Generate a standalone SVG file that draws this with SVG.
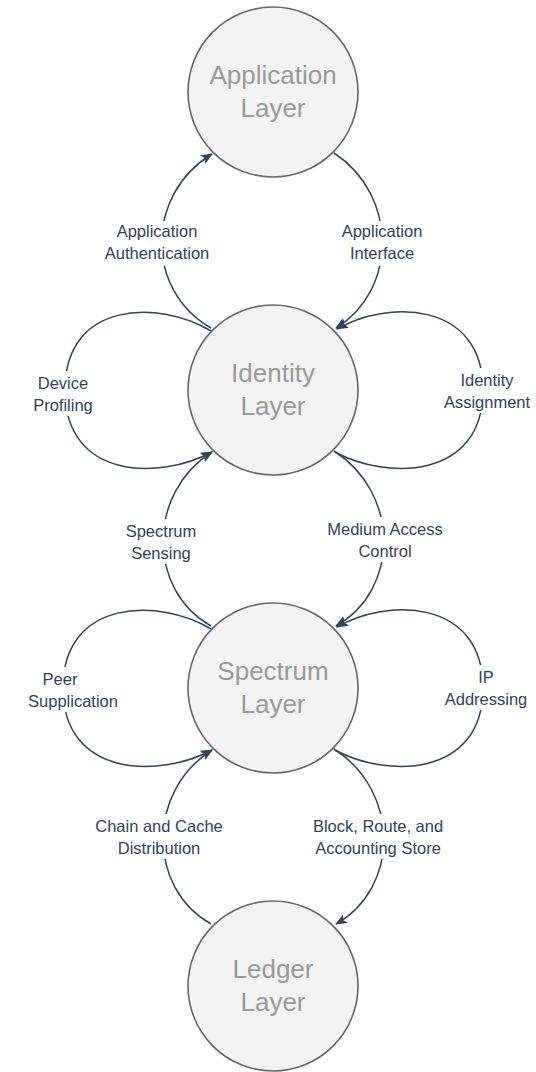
<svg xmlns="http://www.w3.org/2000/svg" width="536" height="1072" viewBox="0 0 536 1072">
<style>
.node circle{fill:#f3f3f3;stroke:#666;stroke-width:1.6}
.node text{font-family:"Liberation Sans",Arial,sans-serif;font-size:26px;fill:#9a9a9a;text-anchor:middle}
.edge path{fill:none;stroke:#33435a;stroke-width:1.5}
.lbl rect{fill:#fff}
.lbl text{font-family:"Liberation Sans",Arial,sans-serif;font-size:16.5px;fill:#33435a;text-anchor:middle}
</style>
<defs>
<marker id="arr" markerUnits="userSpaceOnUse" markerWidth="12" markerHeight="12" viewBox="0 0 12 10" refX="11" refY="5" orient="auto">
<path d="M0,0 L12,5 L0,10 L3,5 z" fill="#33435a"/>
</marker>
</defs>
<rect width="536" height="1072" fill="#fff"/>
<g id="connectors">
<g class="edge" id="e-app-auth"><path d="M211,328 C145,290 145,195 212,154" marker-end="url(#arr)"/></g>
<g class="edge" id="e-app-iface"><path d="M334,153 C398,195 398,290 336,328" marker-end="url(#arr)"/></g>
<g class="edge" id="e-dev-prof"><path d="M211,331 C160,300 65,300 65,390 C65,480 160,480 212,452" marker-end="url(#arr)"/></g>
<g class="edge" id="e-id-assign"><path d="M335,452 C386,480 483,480 483,390 C483,300 386,300 337,329" marker-end="url(#arr)"/></g>
<g class="edge" id="e-spec-sense"><path d="M211,626 C147,590 147,493 212,452" marker-end="url(#arr)"/></g>
<g class="edge" id="e-mac"><path d="M334,451 C400,493 400,590 336,626" marker-end="url(#arr)"/></g>
<g class="edge" id="e-peer"><path d="M211,629 C160,598 63,598 63,688 C63,778 160,778 212,750" marker-end="url(#arr)"/></g>
<g class="edge" id="e-ip"><path d="M335,750 C386,778 483,778 483,688 C483,598 386,598 337,627" marker-end="url(#arr)"/></g>
<g class="edge" id="e-chain"><path d="M211,924 C147,888 147,791 212,750" marker-end="url(#arr)"/></g>
<g class="edge" id="e-block"><path d="M334,749 C400,791 400,888 336,924" marker-end="url(#arr)"/></g>
<g class="lbl"><rect x="98" y="221" width="118" height="45"/><text x="157" y="237">Application</text><text x="157" y="259">Authentication</text></g>
<g class="lbl"><rect x="334" y="221" width="96" height="45"/><text x="382" y="237">Application</text><text x="382" y="259">Interface</text></g>
<g class="lbl"><rect x="26" y="371" width="74" height="45"/><text x="63" y="389">Device</text><text x="63" y="411">Profiling</text></g>
<g class="lbl"><rect x="439" y="368" width="96" height="45"/><text x="487" y="386">Identity</text><text x="487" y="408">Assignment</text></g>
<g class="lbl"><rect x="116" y="519" width="92" height="45"/><text x="161" y="537">Spectrum</text><text x="161" y="559">Sensing</text></g>
<g class="lbl"><rect x="318" y="517" width="134" height="45"/><text x="385" y="535">Medium Access</text><text x="385" y="557">Control</text></g>
<g class="lbl"><rect x="32" y="667" width="82" height="45"/><text x="60" y="685">Peer</text><text x="73" y="707">Supplication</text></g>
<g class="lbl"><rect x="437" y="665" width="98" height="45"/><text x="486" y="683">IP</text><text x="486" y="705">Addressing</text></g>
<g class="lbl"><rect x="86" y="814" width="146" height="45"/><text x="159" y="832">Chain and Cache</text><text x="159" y="854">Distribution</text></g>
<g class="lbl"><rect x="302" y="814" width="152" height="45"/><text x="378" y="832">Block, Route, and</text><text x="378" y="854">Accounting Store</text></g>
</g>
<g class="node" id="n-app"><circle cx="273" cy="92" r="85"/><text x="273" y="84">Application</text><text x="273" y="117">Layer</text></g>
<g class="node" id="n-identity"><circle cx="273" cy="390" r="85"/><text x="273" y="382">Identity</text><text x="273" y="415">Layer</text></g>
<g class="node" id="n-spectrum"><circle cx="273" cy="688" r="85"/><text x="273" y="680">Spectrum</text><text x="273" y="713">Layer</text></g>
<g class="node" id="n-ledger"><circle cx="273" cy="986" r="85"/><text x="273" y="978">Ledger</text><text x="273" y="1011">Layer</text></g>
</svg>
